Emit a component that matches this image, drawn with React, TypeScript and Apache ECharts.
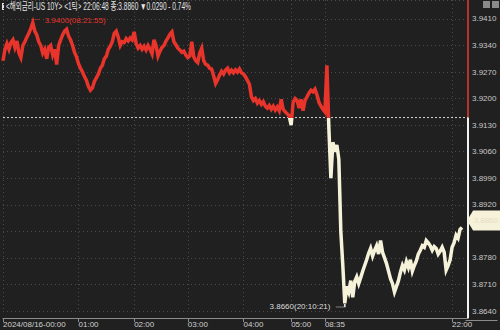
import React, { useEffect, useRef } from "react";
import * as echarts from "echarts";

// ---- data ----
const title = "<해외금리-US 10Y> <1틱> 22:06:48 종:3.8860 ▼0.0290 - 0.74%";
const slotCount = 235; // category slots across the plot
const categories = Array.from({ length: slotCount }, (_, i) => String(i));
const labelIndex = [0, 38, 66, 93, 121, 145, 162, 226];
const labelText = ["2024/08/16-00:00", "01:00", "02:00", "03:00", "04:00", "05:00", "08:35", "22:00"];
const prevClose = 3.915;
const lastPrice = 3.886;
const maxTime = "08:21:55";
const minTime = "20:10:21";
const yTickMin = 3.864;
const yTickMax = 3.946;
const yTickStep = 0.007;

const prices = [
  3.9300, 3.9330, 3.9345, 3.9330, 3.9348, 3.9355, 3.9335, 3.9352, 3.9320, 3.9308,
  3.9340, 3.9350, 3.9362, 3.9372, 3.9385, 3.9400, 3.9378, 3.9368, 3.9350, 3.9340,
  3.9320, 3.9330, 3.9305, 3.9335, 3.9340, 3.9315, 3.9330, 3.9290, 3.9340, 3.9355,
  3.9368, 3.9378, 3.9383, 3.9365, 3.9355, 3.9340, 3.9322, 3.9310, 3.9292, 3.9280,
  3.9270, 3.9258, 3.9248, 3.9232, 3.9222, 3.9228, 3.9245, 3.9255, 3.9265, 3.9280,
  3.9288, 3.9305, 3.9312, 3.9330, 3.9338, 3.9350, 3.9372, 3.9378, 3.9362, 3.9340,
  3.9350, 3.9348, 3.9358, 3.9352, 3.9360, 3.9355, 3.9376, 3.9345, 3.9333, 3.9340,
  3.9330, 3.9338, 3.9328, 3.9340, 3.9330, 3.9318, 3.9355, 3.9340, 3.9312, 3.9325,
  3.9335, 3.9340, 3.9352, 3.9360, 3.9370, 3.9376, 3.9350, 3.9342, 3.9333, 3.9328,
  3.9322, 3.9325, 3.9315, 3.9308, 3.9312, 3.9350, 3.9310, 3.9300, 3.9295, 3.9320,
  3.9333, 3.9300, 3.9290, 3.9288, 3.9280, 3.9278, 3.9260, 3.9240, 3.9250, 3.9262,
  3.9272, 3.9265, 3.9275, 3.9280, 3.9268, 3.9275, 3.9268, 3.9276, 3.9270, 3.9278,
  3.9268, 3.9265, 3.9258, 3.9248, 3.9238, 3.9205, 3.9195, 3.9200, 3.9188, 3.9195,
  3.9185, 3.9192, 3.9180, 3.9175, 3.9182, 3.9172, 3.9180, 3.9170, 3.9178, 3.9168,
  3.9198, 3.9172, 3.9165, 3.9160, 3.9155, 3.9130, 3.9190, 3.9200, 3.9195, 3.9175,
  3.9198, 3.9168, 3.9195, 3.9205, 3.9215, 3.9222, 3.9218, 3.9225, 3.9210, 3.9190,
  3.9180, 3.9172, 3.9165, 3.9288, 3.9120, 3.8990, 3.9085, 3.9060, 3.9078, 3.9040,
  3.8850, 3.8760, 3.8660, 3.8705, 3.8690, 3.8720, 3.8676, 3.8718, 3.8730, 3.8712,
  3.8728, 3.8745, 3.8760, 3.8775, 3.8792, 3.8805, 3.8785, 3.8800, 3.8812, 3.8790,
  3.8826, 3.8795, 3.8780, 3.8765, 3.8745, 3.8725, 3.8712, 3.8690, 3.8705, 3.8720,
  3.8742, 3.8760, 3.8748, 3.8770, 3.8755, 3.8775, 3.8745, 3.8760, 3.8772, 3.8790,
  3.8800, 3.8812, 3.8808, 3.8826, 3.8820, 3.8812, 3.8800, 3.8810, 3.8805, 3.8790,
  3.8798, 3.8808, 3.8795, 3.8748, 3.8760, 3.8775, 3.8808, 3.8820, 3.8840, 3.8832,
  3.8855, 3.8860,
];

const RED = "#e8342a";
const CREAM = "#f6f2da";
const BG = "#202020";
const FONT = "'Liberation Sans Narrow', 'Liberation Sans', sans-serif";
const TITLE_FONT = "'Liberation Sans Narrow', 'Liberation Sans', 'Noto Sans CJK KR', sans-serif";

export default function App() {
  const ref = useRef<HTMLDivElement>(null);
  useEffect(() => {
    if (!ref.current) return;
    const chart = echarts.init(ref.current, undefined, { renderer: "svg" });
    let maxIdx = 0;
    let minIdx = 0;
    prices.forEach((v, i) => {
      if (v > prices[maxIdx]) maxIdx = i;
      if (v < prices[minIdx]) minIdx = i;
    });
    const lastIdx = prices.length - 1;
    const edge = slotCount - 1;
    const isLabel = (i: number) => labelIndex.indexOf(i) >= 0;

    // squeeze the header to the width it takes in the reference
    const titleFont = `10px ${TITLE_FONT}`;
    let titleScale = 1;
    const ctx = document.createElement("canvas").getContext("2d");
    if (ctx) {
      ctx.font = titleFont;
      const w = ctx.measureText(title).width;
      if (w > 0) titleScale = Math.min(1, 185 / w);
    }

    chart.setOption({
      animation: false,
      backgroundColor: BG,
      grid: { left: 0, right: 32, top: 0, bottom: 19, containLabel: false },
      xAxis: {
        type: "category",
        data: categories,
        boundaryGap: false,
        offset: 7,
        axisLine: { show: true, lineStyle: { color: "#8c8c8c", width: 1 } },
        axisTick: { show: true, interval: (i: number) => isLabel(i), length: 4, lineStyle: { color: "#8c8c8c" } },
        axisLabel: {
          show: true,
          interval: (i: number) => isLabel(i),
          formatter: (_v: string, i: number) => {
            const k = labelIndex.indexOf(i);
            return k >= 0 ? labelText[k] : "";
          },
          align: "left",
          color: "#d0d0d0",
          fontSize: 8,
          margin: 2,
          fontFamily: FONT,
        },
        splitLine: { show: true, interval: (i: number) => isLabel(i), lineStyle: { color: "#4a4a4a", type: [1, 3] } },
      },
      yAxis: {
        type: "value",
        position: "right",
        min: yTickMin,
        max: yTickMax,
        interval: yTickStep,
        axisLine: { show: false },
        axisTick: { show: false },
        axisLabel: {
          color: "#c8c8c8",
          fontSize: 8,
          margin: 4,
          fontFamily: FONT,
          showMaxLabel: false,
          // the label under the last-price tag is hidden by it
          formatter: (v: number) => (Math.abs(v - lastPrice) < yTickStep / 2 ? "" : v.toFixed(4)),
        },
        splitLine: { show: true, lineStyle: { color: "#4a4a4a", type: [1, 3] } },
      },
      series: [
        {
          type: "line",
          data: prices,
          showSymbol: false,
          symbol: "none",
          clip: false,
          z: 3,
          lineStyle: { width: 3.5, color: RED, join: "miter" },
          markPoint: {
            silent: true,
            data: [
              {
                coord: [maxIdx, prices[maxIdx]],
                symbol: "path://M0,3 L0,0 L7,0",
                symbolSize: [7, 3],
                symbolOffset: [3.5, -1.5],
                itemStyle: { color: "none", borderColor: RED, borderWidth: 1 },
                label: {
                  show: true,
                  position: "right",
                  distance: 1,
                  offset: [0, -1],
                  color: RED,
                  fontSize: 8,
                  fontFamily: FONT,
                  formatter: `${prices[maxIdx].toFixed(4)}(${maxTime})`,
                },
              },
              {
                coord: [minIdx, prices[minIdx]],
                symbol: "path://M9,0 L9,3 L0,3",
                symbolSize: [9, 3],
                symbolOffset: [-4.5, 2],
                itemStyle: { color: "none", borderColor: "#e0e0e0", borderWidth: 1 },
                label: {
                  show: true,
                  position: "left",
                  distance: 1,
                  offset: [0, 1],
                  color: "#dcdcdc",
                  fontSize: 8,
                  fontFamily: FONT,
                  formatter: `${prices[minIdx].toFixed(4)}(${minTime})`,
                },
              },
              {
                coord: [lastIdx, lastPrice],
                symbol: "path://M0,10 L6,0 L34,0 L34,20 L6,20 Z",
                symbolSize: [34, 20],
                symbolOffset: [22, -7],
                itemStyle: { color: CREAM },
                label: {
                  show: true,
                  position: "inside",
                  offset: [2, 0],
                  color: "#e4dec0",
                  fontSize: 8,
                  fontFamily: FONT,
                  formatter: lastPrice.toFixed(4),
                },
              },
            ],
          },
        },
        {
          // previous close reference line
          type: "line",
          data: [[0, prevClose], [edge, prevClose]],
          symbol: "none",
          silent: true,
          z: 2,
          lineStyle: { color: "#d8d8d8", type: [2, 2], width: 1 },
        },
        {
          type: "line",
          data: [[edge, yTickMax], [edge, prevClose]],
          symbol: "none",
          clip: false,
          silent: true,
          lineStyle: { color: "#b8322c", width: 2 },
        },
        {
          type: "line",
          data: [[edge, prevClose], [edge, yTickMin - 0.0019]],
          symbol: "none",
          clip: false,
          silent: true,
          lineStyle: { color: "#f2f2f2", width: 2 },
        },
      ],
      graphic: [
        { type: "rect", left: 2, top: 3, shape: { width: 2, height: 7 }, style: { fill: "#e0e0e0" } },
        {
          type: "text",
          x: 6,
          y: 1,
          scaleX: titleScale,
          style: { text: title, fill: "#e6e6e6", font: titleFont, textVerticalAlign: "top" },
        },
        { type: "rect", right: 10, top: 1, shape: { width: 7, height: 7 }, style: { fill: "#8a8a8a" } },
        { type: "rect", right: 1, top: 1, shape: { width: 7, height: 7 }, style: { fill: "#8a8a8a" } },
        { type: "line", right: 0, top: 318, shape: { x1: 0, y1: 0, x2: 32, y2: 0 }, style: { stroke: "#8c8c8c", lineWidth: 1 } },
      ],
    });

    // colour the price line red above the previous close and cream below it
    const yPix = chart.convertToPixel({ yAxisIndex: 0 }, prevClose) as number;
    const h = chart.getHeight();
    const t = yPix / h;
    chart.setOption({
      series: [
        {
          lineStyle: {
            color: new echarts.graphic.LinearGradient(
              0, 0, 0, h,
              [
                { offset: 0, color: RED },
                { offset: t, color: RED },
                { offset: t, color: CREAM },
                { offset: 1, color: CREAM },
              ],
              true
            ),
          },
        },
      ],
    });
    return () => chart.dispose();
  }, []);
  return <div ref={ref} style={{ width: 500, height: 330, position: "fixed", left: 0, top: 0 }} />;
}
